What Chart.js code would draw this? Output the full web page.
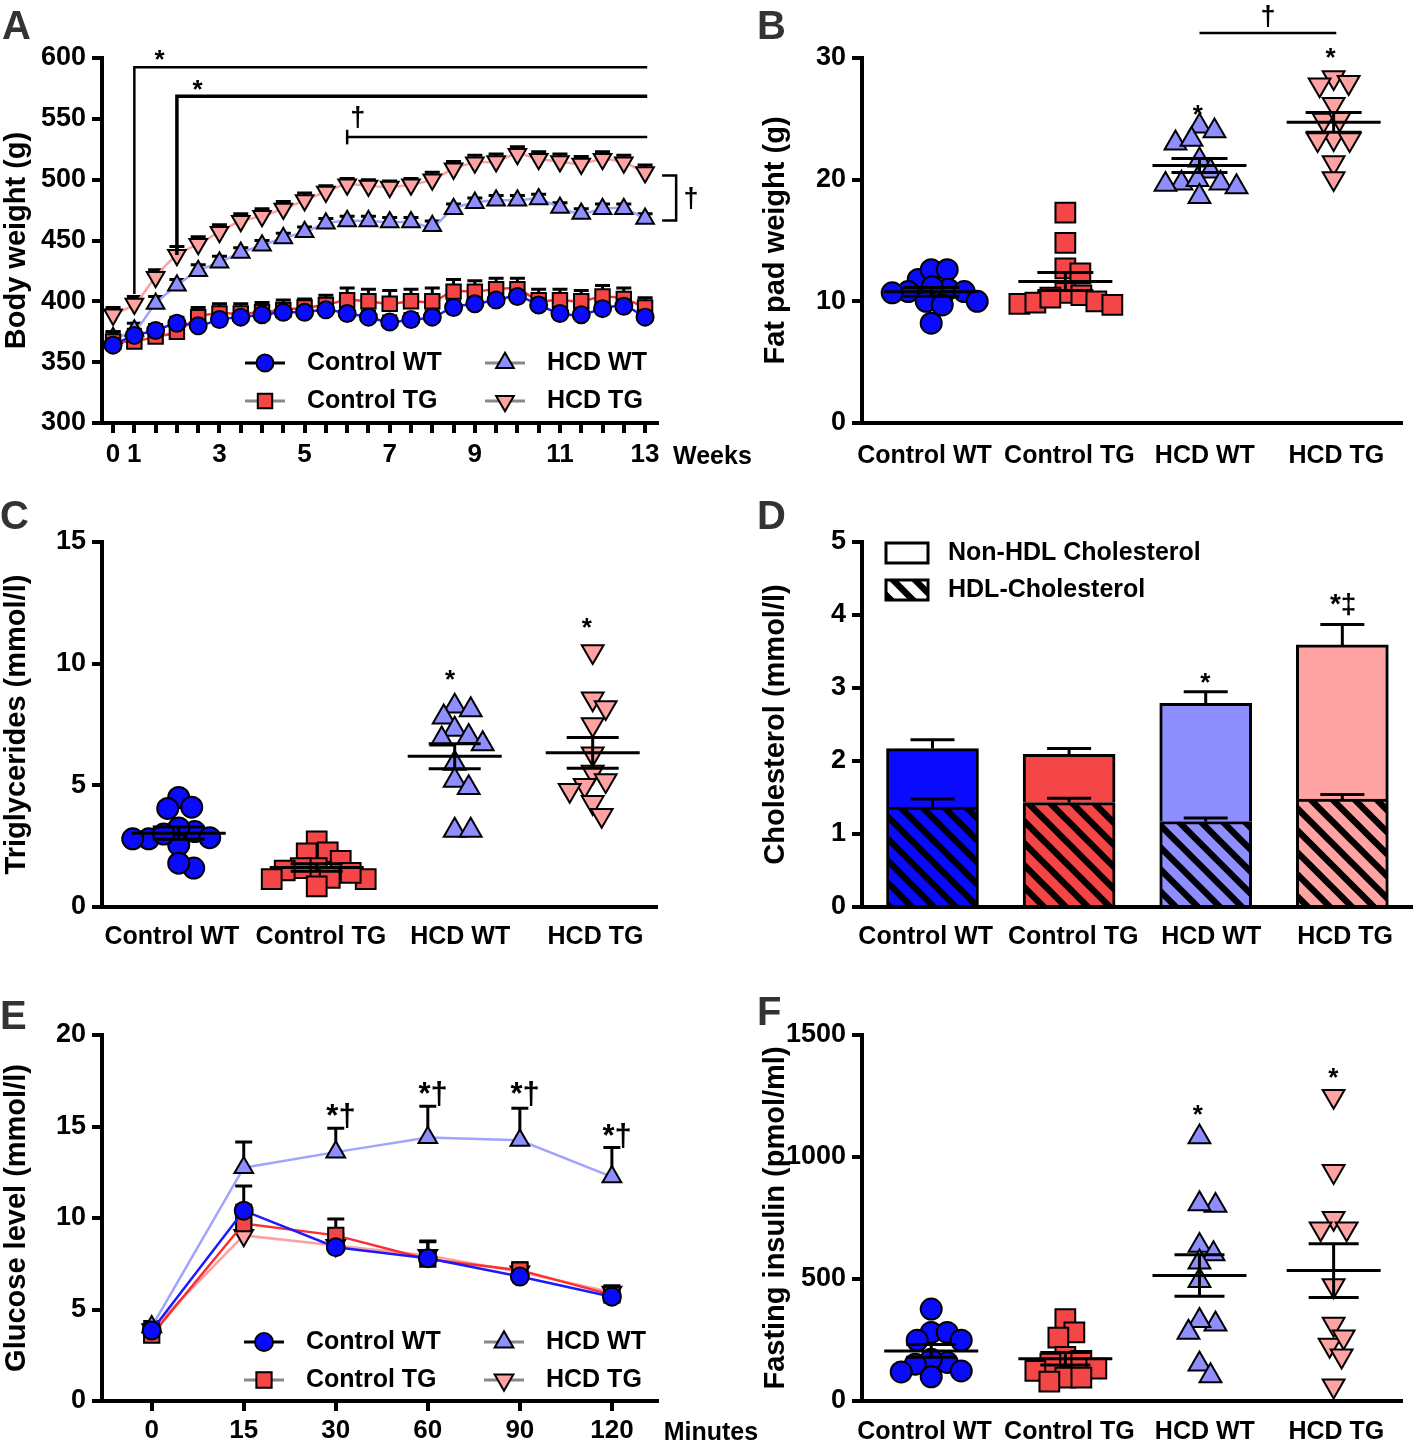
<!DOCTYPE html>
<html>
<head>
<meta charset="utf-8">
<title>Body weight, fat pad, lipids, glucose and insulin</title>
<script src="https://cdn.jsdelivr.net/npm/chart.js@4.4.1/dist/chart.umd.min.js"></script>
<style>
  body { margin: 0; background: #fff; }
  #fig { position: relative; width: 1418px; height: 1443px; background: #fff; overflow: hidden; }
  #fig canvas { position: absolute; }
  .tag { position: absolute; font: bold 40px/40px 'Liberation Sans', Arial, sans-serif; color: #333; }
</style>
</head>
<body>
<div id="fig">
  <canvas id="chartA" width="760" height="480" style="left:0;top:0"></canvas>
  <canvas id="chartB" width="659" height="480" style="left:759px;top:0"></canvas>
  <canvas id="chartC" width="760" height="470" style="left:0;top:490px"></canvas>
  <canvas id="chartD" width="659" height="470" style="left:759px;top:490px"></canvas>
  <canvas id="chartE" width="760" height="458" style="left:0;top:985px"></canvas>
  <canvas id="chartF" width="659" height="458" style="left:759px;top:985px"></canvas>
  <div class="tag" style="left:2px;top:5px">A</div>
  <div class="tag" style="left:757px;top:5px">B</div>
  <div class="tag" style="left:0;top:495px">C</div>
  <div class="tag" style="left:757px;top:495px">D</div>
  <div class="tag" style="left:0;top:995px">E</div>
  <div class="tag" style="left:757px;top:991px">F</div>
</div>
<script>
const FONT = "'Liberation Sans', Arial, Helvetica, sans-serif";
Chart.defaults.font.family = FONT;
Chart.defaults.font.weight = 'bold';
Chart.defaults.color = '#000';
Chart.defaults.animation = false;
Chart.defaults.events = [];
Chart.defaults.plugins.legend.display = false;
Chart.defaults.plugins.tooltip.enabled = false;

// ---------- data ----------
const groups = ['Control WT', 'Control TG', 'HCD WT', 'HCD TG'];

// A: body weight (g), week 0, week 1, then every half week
const weeks = ['0', '1', '1.5', '2', '2.5', '3', '3.5', '4', '4.5', '5', '5.5', '6', '6.5',
  '7', '7.5', '8', '8.5', '9', '9.5', '10', '10.5', '11', '11.5', '12', '12.5', '13'];
const weekTicks = ['0', '1', '3', '5', '7', '9', '11', '13'];
const bwControlWT = [364, 372, 376, 382, 380, 385, 387, 389, 391, 391, 393, 390, 387, 383, 385, 387, 395, 398, 401, 404, 397, 390, 389, 394, 396, 387];
const bwControlTG = [367, 367, 371, 375, 387, 390, 390, 391, 393, 395, 397, 401, 400, 398, 400, 400, 408, 408, 410, 410, 401, 401, 400, 404, 402, 395];
const bwHcdWT = [370, 376, 398, 413, 425, 432, 440, 446, 452, 457, 464, 466, 466, 465, 465, 462, 476, 481, 483, 483, 484, 477, 472, 476, 476, 468];
const bwHcdTG = [389, 398, 420, 438, 447, 457, 466, 470, 476, 483, 490, 496, 495, 494, 496, 500, 509, 514, 515, 521, 517, 515, 513, 517, 514, 506];
const bwSemControlWT = [5, 5, 5, 5, 4, 4, 4, 4, 4, 4, 4, 5, 5, 5, 5, 5, 5, 5, 5, 5, 5, 5, 5, 5, 5, 5];
const bwSemControlTG = [8, 6, 6, 7, 8, 8, 8, 8, 8, 7, 8, 10, 10, 11, 10, 11, 10, 9, 9, 9, 9, 9, 9, 9, 9, 8];
const bwSemHcdWT = [5, 6, 6, 5, 5, 5, 4, 4, 4, 4, 4, 4, 4, 4, 4, 4, 4, 4, 4, 4, 4, 4, 4, 4, 4, 4];
const bwSemHcdTG = [6, 6, 6, 7, 6, 6, 6, 6, 6, 6, 5, 5, 5, 5, 5, 6, 6, 6, 6, 6, 6, 6, 6, 6, 6, 6];

// B: fat pad weight (g), one value per animal
const fatControlWT = [11.8, 12.6, 12.6, 11.0, 10.8, 10.7, 10.8, 11.2, 10.0, 9.7, 10.0, 8.2];
const fatControlTG = [17.3, 14.8, 12.7, 12.3, 10.7, 10.5, 10.0, 9.8, 9.7, 9.9, 10.3];
const fatHcdWT = [24.4, 24.0, 23.0, 23.3, 21.6, 20.7, 19.7, 19.6, 20.0, 19.7, 19.4, 18.6];
const fatHcdTG = [28.4, 28.0, 27.8, 26.2, 24.9, 25.0, 23.4, 23.3, 23.3, 21.4, 20.1];

// C: triglycerides (mmol/l)
const tgControlWT = [4.5, 4.05, 4.1, 3.1, 3.25, 2.85, 2.8, 2.55, 2.8, 3.0, 1.6, 1.8];
const tgControlTG = [2.7, 2.2, 2.25, 1.9, 1.6, 1.6, 1.5, 1.15, 1.2, 0.85, 1.15, 1.4];
const tgHcdWT = [8.25, 8.1, 7.8, 7.3, 7.0, 6.7, 6.9, 5.9, 5.2, 4.9, 3.15, 3.15];
const tgHcdTG = [10.5, 8.56, 8.2, 7.5, 6.3, 5.55, 5.0, 5.2, 4.8, 4.3, 3.77];

// D: cholesterol (mmol/l), group mean and SEM
const hdlChol = [1.37, 1.43, 1.17, 1.48];
const hdlSem = [0.11, 0.06, 0.05, 0.06];
const totalChol = [2.17, 2.09, 2.79, 3.59];
const totalSem = [0.12, 0.08, 0.16, 0.28];
const nonHdlChol = totalChol.map((t, i) => t - hdlChol[i]);

// E: glucose tolerance (mmol/l)
const minutes = ['0', '15', '30', '60', '90', '120'];
const gluControlWT = [3.85, 10.4, 8.4, 7.8, 6.8, 5.7];
const gluControlTG = [3.6, 9.7, 9.05, 7.75, 7.15, 5.8];
const gluHcdWT = [4.05, 12.75, 13.6, 14.4, 14.25, 12.25];
const gluHcdTG = [3.9, 9.05, 8.5, 7.95, 7.05, 5.95];
const gluSemControlWT = [0.3, 1.35, 0.3, 0.3, 0.3, 0.3];
const gluSemControlTG = [0.4, 1.0, 0.9, 0.95, 0.4, 0.4];
const gluSemHcdWT = [0.3, 1.4, 1.3, 1.7, 1.75, 1.6];
const gluSemHcdTG = [0.3, 0.8, 0.6, 0.8, 0.4, 0.35];

// F: fasting insulin (pmol/ml)
const insControlWT = [377, 281, 281, 249, 249, 158, 171, 123, 151, 119, 99];
const insControlTG = [336, 281, 260, 181, 164, 153, 133, 123, 96, 79, 96];
const insHcdWT = [1082, 801, 808, 637, 603, 569, 493, 315, 329, 281, 151, 103];
const insHcdTG = [1249, 941, 749, 706, 706, 473, 315, 229, 263, 185, 62];

// ---------- style ----------
const fills = ['#0a0aff', '#f44646', '#8e8eff', '#ffa2a2'];
const strokes = ['#1a1aff', '#ff2e2e', '#a3a3ff', '#ffa0a0'];
const shapes = ['circle', 'rect', 'triangle', 'triangle'];
const turns = [0, 0, 0, 180];
const legendLines = ['#000', '#888', '#888', '#888'];
const shapeScale = [1, 1.2, 1.2, 1.2];
// where the group names sit under the axis (GraphPad does not centre them exactly)
const labelSpots = [-0.05, 1.03, 2.04, 3.02];

function inkText(ctx, text, x, y, size) {
  ctx.font = `bold ${size}px ${FONT}`;
  ctx.textAlign = 'left';
  ctx.textBaseline = 'alphabetic';
  const m = ctx.measureText(text);
  const x0 = x - (m.actualBoundingBoxRight - m.actualBoundingBoxLeft) / 2;
  const y0 = y + (m.actualBoundingBoxAscent - m.actualBoundingBoxDescent) / 2;
  ctx.fillText(text, x0, y0);
}

function hatch(bg) {
  const s = 22, c = document.createElement('canvas');
  c.width = c.height = s;
  const g = c.getContext('2d');
  g.fillStyle = bg;
  g.fillRect(0, 0, s, s);
  g.strokeStyle = '#000';
  g.lineWidth = 6.5;
  g.beginPath();
  for (const k of [-s, 0, s]) { g.moveTo(k - 3, -3); g.lineTo(k + s + 3, s + 3); }
  g.stroke();
  return g.createPattern(c, 'repeat');
}

function yAxis(min, max, step, title, width) {
  return {
    type: 'linear', min, max,
    afterFit: s => { s.width = width; },
    border: { display: true, color: '#000', width: 4 },
    grid: { drawOnChartArea: false, color: '#000', lineWidth: 4, tickLength: 10 },
    ticks: { stepSize: step, padding: 6, font: { size: 27 }, callback: v => String(v) },
    title: { display: true, text: title, padding: 0, font: { size: 29 } }
  };
}

function groupAxis(min, max, height, pad) {
  return {
    type: 'linear', min, max, offset: false,
    afterFit: s => { s.height = height; },
    afterBuildTicks: s => { s.ticks = labelSpots.map(v => ({ value: v })); },
    border: { display: true, color: '#000', width: 4 },
    grid: { display: false, drawTicks: false },
    ticks: { autoSkip: false, maxRotation: 0, padding: pad, font: { size: 25 }, callback: v => groups[Math.round(v)] }
  };
}

function lineSets(series, sems, r) {
  return series.map((vals, g) => ({
    label: groups[g],
    data: vals.map((v, i) => ({ x: i, y: v })),
    sem: sems[g],
    borderColor: strokes[g],
    borderWidth: 2.5,
    pointStyle: shapes[g],
    pointRotation: turns[g],
    pointRadius: r * shapeScale[g],
    pointBackgroundColor: fills[g],
    pointBorderColor: '#000',
    pointBorderWidth: 2,
    legendLine: legendLines[g]
  }));
}

function dotSets(series, r) {
  return series.map((vals, g) => ({
    label: groups[g],
    data: vals.map(v => ({ x: g, y: v })),
    showLine: false,
    pointStyle: shapes[g],
    pointRotation: turns[g],
    pointRadius: r * (g === 1 ? 1.33 : shapeScale[g]),
    pointBackgroundColor: fills[g],
    pointBorderColor: '#000',
    pointBorderWidth: 2
  }));
}

// ---------- plugins ----------
const lineErrors = cap => ({
  id: 'lineErrors',
  beforeDatasetDraw(chart, args) {
    const ds = chart.data.datasets[args.index];
    const { ctx, scales: { y } } = chart;
    ctx.save();
    ctx.strokeStyle = '#000';
    ctx.lineWidth = 3;
    args.meta.data.forEach((pt, j) => {
      const top = y.getPixelForValue(ds.data[j].y + ds.sem[j]);
      ctx.beginPath();
      ctx.moveTo(pt.x, pt.y);
      ctx.lineTo(pt.x, top);
      ctx.moveTo(pt.x - cap / 2, top);
      ctx.lineTo(pt.x + cap / 2, top);
      ctx.stroke();
    });
    ctx.restore();
  }
});

const seriesLegend = cfg => ({
  id: 'seriesLegend',
  afterDraw(chart) {
    const { ctx, chartArea: a } = chart;
    chart.data.datasets.forEach((ds, i) => {
      const cx = a.left + cfg.x + Math.floor(i / 2) * cfg.colGap;
      const cy = a.top + cfg.y + (i % 2) * cfg.rowGap;
      ctx.save();
      ctx.strokeStyle = ds.legendLine;
      ctx.lineWidth = 3;
      ctx.beginPath();
      ctx.moveTo(cx - 20, cy);
      ctx.lineTo(cx + 20, cy);
      ctx.stroke();
      ctx.fillStyle = ds.pointBackgroundColor;
      ctx.strokeStyle = '#000';
      ctx.lineWidth = 2;
      Chart.helpers.drawPoint(ctx, { pointStyle: ds.pointStyle, rotation: ds.pointRotation, radius: ds.pointRadius, borderWidth: 2 }, cx, cy);
      ctx.fillStyle = '#000';
      ctx.font = `bold 25px ${FONT}`;
      ctx.textAlign = 'left';
      ctx.textBaseline = 'middle';
      ctx.fillText(ds.label, cx + 42, cy);
      ctx.restore();
    });
  }
});

const notes = cfg => ({
  id: 'notes',
  afterDraw(chart) {
    const { ctx, chartArea: a, scales: { x, y } } = chart;
    ctx.save();
    ctx.strokeStyle = '#000';
    ctx.fillStyle = '#000';
    (cfg.paths || []).forEach(p => {
      ctx.lineWidth = p.w || 3;
      ctx.beginPath();
      p.pts.forEach(([vx, vy], k) => {
        const px = x.getPixelForValue(vx), py = y.getPixelForValue(vy);
        if (k) ctx.lineTo(px, py); else ctx.moveTo(px, py);
      });
      ctx.stroke();
    });
    (cfg.texts || []).forEach(t => inkText(ctx, t.text, x.getPixelForValue(t.x), y.getPixelForValue(t.y), t.size || 26));
    if (cfg.axisLabel) inkText(ctx, cfg.axisLabel, a.right + cfg.axisDx, a.bottom + cfg.axisDy, 25);
    ctx.restore();
  }
});

// spreads each group's dots sideways so they do not pile up, then draws mean and SEM
const dotSummary = cfg => ({
  id: 'dotSummary',
  afterDatasetsUpdate(chart) {
    const x = chart.scales.x;
    chart.data.datasets.forEach((ds, g) => {
      const els = chart.getDatasetMeta(g).data.slice().sort((p, q) => p.y - q.y);
      const cx = x.getPixelForValue(g);
      const placed = [];
      els.forEach(el => {
        for (let k = 0; k < 600; k++) {
          const off = k === 0 ? 0 : (k % 2 ? (k + 1) / 2 : -k / 2);
          const px = cx + off;
          if (placed.every(p => (p.x - px) ** 2 + (p.y - el.y) ** 2 >= cfg.gap * cfg.gap)) {
            el.x = px;
            placed.push({ x: px, y: el.y });
            break;
          }
        }
      });
    });
  },
  afterDatasetsDraw(chart) {
    const { ctx, scales: { x, y } } = chart;
    ctx.save();
    ctx.strokeStyle = '#000';
    ctx.lineWidth = 3;
    chart.data.datasets.forEach((ds, g) => {
      const vals = ds.data.map(p => p.y);
      const n = vals.length;
      const m = vals.reduce((s, v) => s + v, 0) / n;
      const sd = Math.sqrt(vals.reduce((s, v) => s + (v - m) ** 2, 0) / (n - 1));
      const se = sd / Math.sqrt(n);
      const cx = x.getPixelForValue(g);
      const ym = y.getPixelForValue(m), yHi = y.getPixelForValue(m + se), yLo = y.getPixelForValue(m - se);
      ctx.beginPath();
      ctx.moveTo(cx - cfg.meanW / 2, ym); ctx.lineTo(cx + cfg.meanW / 2, ym);
      ctx.moveTo(cx, yLo); ctx.lineTo(cx, yHi);
      ctx.moveTo(cx - cfg.capW / 2, yHi); ctx.lineTo(cx + cfg.capW / 2, yHi);
      ctx.moveTo(cx - cfg.capW / 2, yLo); ctx.lineTo(cx + cfg.capW / 2, yLo);
      ctx.stroke();
    });
    ctx.restore();
  }
});

const barErrors = cfg => ({
  id: 'barErrors',
  afterDatasetsDraw(chart) {
    const { ctx, scales: { x, y } } = chart;
    ctx.save();
    ctx.strokeStyle = '#000';
    ctx.lineWidth = 3;
    cfg.sets.forEach(([vals, sems]) => {
      vals.forEach((v, g) => {
        const cx = x.getPixelForValue(g);
        const y0 = y.getPixelForValue(v), y1 = y.getPixelForValue(v + sems[g]);
        ctx.beginPath();
        ctx.moveTo(cx, y0); ctx.lineTo(cx, y1);
        ctx.moveTo(cx - cfg.cap / 2, y1); ctx.lineTo(cx + cfg.cap / 2, y1);
        ctx.stroke();
      });
    });
    ctx.restore();
  }
});

const boxLegend = cfg => ({
  id: 'boxLegend',
  afterDraw(chart) {
    const { ctx, chartArea: a } = chart;
    cfg.items.forEach((it, k) => {
      const bx = a.left + cfg.x, by = a.top + cfg.y + k * cfg.rowGap;
      ctx.save();
      ctx.fillStyle = it.fill;
      ctx.fillRect(bx, by - 10, 42, 20);
      ctx.strokeStyle = '#000';
      ctx.lineWidth = 3;
      ctx.strokeRect(bx, by - 10, 42, 20);
      ctx.fillStyle = '#000';
      ctx.font = `bold 25px ${FONT}`;
      ctx.textAlign = 'left';
      ctx.textBaseline = 'middle';
      ctx.fillText(it.text, bx + 62, by);
      ctx.restore();
    });
  }
});

// ---------- A: body weight ----------
new Chart(document.getElementById('chartA'), {
  type: 'line',
  data: { datasets: lineSets([bwControlWT, bwControlTG, bwHcdWT, bwHcdTG], [bwSemControlWT, bwSemControlTG, bwSemHcdWT, bwSemHcdTG], 8.5) },
  options: {
    responsive: false,
    layout: { padding: { left: 0, top: 58, right: 103, bottom: 0 } },
    elements: { line: { tension: 0.4 } },
    scales: {
      x: {
        type: 'linear', min: -0.52, max: 25.56,
        afterFit: s => { s.height = 57; },
        afterBuildTicks: s => { s.ticks = weeks.map((w, i) => ({ value: i })); },
        border: { display: true, color: '#000', width: 4 },
        grid: { drawOnChartArea: false, color: '#000', lineWidth: 4, tickLength: 10 },
        ticks: { autoSkip: false, maxRotation: 0, padding: 6, font: { size: 26 },
          callback: v => (weekTicks.includes(weeks[v]) ? weeks[v] : '') }
      },
      y: yAxis(300, 600, 50, 'Body weight (g)', 102)
    }
  },
  plugins: [
    lineErrors(15),
    seriesLegend({ x: 163, y: 305, colGap: 240, rowGap: 38 }),
    notes({
      paths: [
        { pts: [[1, 406], [1, 592.5], [25.1, 592.5]], w: 2.5 },
        { pts: [[3, 438], [3, 568.5], [25.1, 568.5]], w: 3.5 },
        { pts: [[11, 529], [11, 541]], w: 2.5 },
        { pts: [[11, 535], [25.1, 535]], w: 2.5 },
        { pts: [[25.8, 503.5], [26.46, 503.5], [26.46, 466.5], [25.8, 466.5]], w: 2.5 }
      ],
      texts: [
        { text: '*', x: 2.21, y: 602.5 },
        { text: '*', x: 3.99, y: 578 },
        { text: '†', x: 11.5, y: 551.5, size: 27 },
        { text: '†', x: 27.16, y: 484.5, size: 27 }
      ],
      axisLabel: 'Weeks', axisDx: 55, axisDy: 31
    })
  ]
});

// ---------- B: fat pad ----------
new Chart(document.getElementById('chartB'), {
  type: 'scatter',
  data: { datasets: dotSets([fatControlWT, fatControlTG, fatHcdWT, fatHcdTG], 10.5) },
  options: {
    responsive: false,
    layout: { padding: { left: 0, top: 58, right: 6, bottom: 0 } },
    scales: {
      x: groupAxis(-0.516, 3.51, 57, 18),
      y: yAxis(0, 30, 10, 'Fat pad weight (g)', 103)
    }
  },
  plugins: [
    dotSummary({ gap: 15.5, meanW: 94, capW: 56 }),
    notes({
      paths: [{ pts: [[2, 32.05], [3.02, 32.05]], w: 2.5 }],
      texts: [
        { text: '†', x: 2.51, y: 33.45, size: 27 },
        { text: '*', x: 1.99, y: 25.7 },
        { text: '*', x: 2.98, y: 30.4 }
      ]
    })
  ]
});

// ---------- C: triglycerides ----------
new Chart(document.getElementById('chartC'), {
  type: 'scatter',
  data: { datasets: dotSets([tgControlWT, tgControlTG, tgHcdWT, tgHcdTG], 10.5) },
  options: {
    responsive: false,
    layout: { padding: { left: 0, top: 52, right: 103, bottom: 0 } },
    scales: {
      x: groupAxis(-0.556, 3.466, 53, 15),
      y: yAxis(0, 15, 5, 'Triglycerides (mmol/l)', 102)
    }
  },
  plugins: [
    dotSummary({ gap: 15.5, meanW: 94, capW: 52 }),
    notes({
      texts: [
        { text: '*', x: 1.97, y: 9.53 },
        { text: '*', x: 2.96, y: 11.67 }
      ]
    })
  ]
});

// ---------- D: cholesterol ----------
new Chart(document.getElementById('chartD'), {
  type: 'bar',
  data: {
    datasets: [
      { label: 'HDL-Cholesterol', data: hdlChol.map((v, i) => ({ x: i, y: v })), stack: 'c',
        backgroundColor: fills.map(hatch), borderColor: '#000', borderWidth: 3, barThickness: 92 },
      { label: 'Non-HDL Cholesterol', data: nonHdlChol.map((v, i) => ({ x: i, y: v })), stack: 'c',
        backgroundColor: fills, borderColor: '#000', borderWidth: 3, barThickness: 92 }
    ]
  },
  options: {
    responsive: false,
    layout: { padding: { left: 0, top: 52, right: 6, bottom: 0 } },
    scales: {
      x: Object.assign(groupAxis(-0.516, 3.51, 53, 15), { stacked: true }),
      y: Object.assign(yAxis(0, 5, 1, 'Cholesterol (mmol/l)', 103), { stacked: true })
    }
  },
  plugins: [
    barErrors({ sets: [[hdlChol, hdlSem], [totalChol, totalSem]], cap: 44 }),
    boxLegend({ x: 24, y: 11, rowGap: 37, items: [
      { fill: '#fff', text: 'Non-HDL Cholesterol' },
      { fill: hatch('#fff'), text: 'HDL-Cholesterol' }
    ] }),
    notes({
      texts: [
        { text: '*', x: 2, y: 3.14 },
        { text: '*‡', x: 3, y: 4.15, size: 28 }
      ]
    })
  ]
});

// ---------- E: glucose tolerance ----------
new Chart(document.getElementById('chartE'), {
  type: 'line',
  data: { datasets: lineSets([gluControlWT, gluControlTG, gluHcdWT, gluHcdTG], [gluSemControlWT, gluSemControlTG, gluSemHcdWT, gluSemHcdTG], 9) },
  options: {
    responsive: false,
    layout: { padding: { left: 0, top: 50, right: 103, bottom: 0 } },
    elements: { line: { tension: 0 } },
    scales: {
      x: {
        type: 'linear', min: -0.54, max: 5.49,
        afterFit: s => { s.height = 42; },
        afterBuildTicks: s => { s.ticks = minutes.map((m, i) => ({ value: i })); },
        border: { display: true, color: '#000', width: 4 },
        grid: { drawOnChartArea: false, color: '#000', lineWidth: 4, tickLength: 10 },
        ticks: { autoSkip: false, maxRotation: 0, padding: 4, font: { size: 26 }, callback: v => minutes[v] }
      },
      y: yAxis(0, 20, 5, 'Glucose level (mmol/l)', 102)
    }
  },
  plugins: [
    lineErrors(17),
    seriesLegend({ x: 162, y: 307, colGap: 240, rowGap: 38 }),
    notes({
      texts: [
        { text: '*†', x: 2.05, y: 15.6, size: 31 },
        { text: '*†', x: 3.05, y: 16.8, size: 31 },
        { text: '*†', x: 4.05, y: 16.8, size: 31 },
        { text: '*†', x: 5.05, y: 14.5, size: 31 }
      ],
      axisLabel: 'Minutes', axisDx: 54, axisDy: 29
    })
  ]
});

// ---------- F: fasting insulin ----------
new Chart(document.getElementById('chartF'), {
  type: 'scatter',
  data: { datasets: dotSets([insControlWT, insControlTG, insHcdWT, insHcdTG], 10.5) },
  options: {
    responsive: false,
    layout: { padding: { left: 0, top: 50, right: 6, bottom: 0 } },
    scales: {
      x: groupAxis(-0.516, 3.51, 42, 16),
      y: yAxis(0, 1500, 500, 'Fasting insulin (pmol/ml)', 103)
    }
  },
  plugins: [
    dotSummary({ gap: 16, meanW: 94, capW: 50 }),
    notes({
      texts: [
        { text: '*', x: 1.99, y: 1192 },
        { text: '*', x: 3, y: 1344 }
      ]
    })
  ]
});
</script>
</body>
</html>
